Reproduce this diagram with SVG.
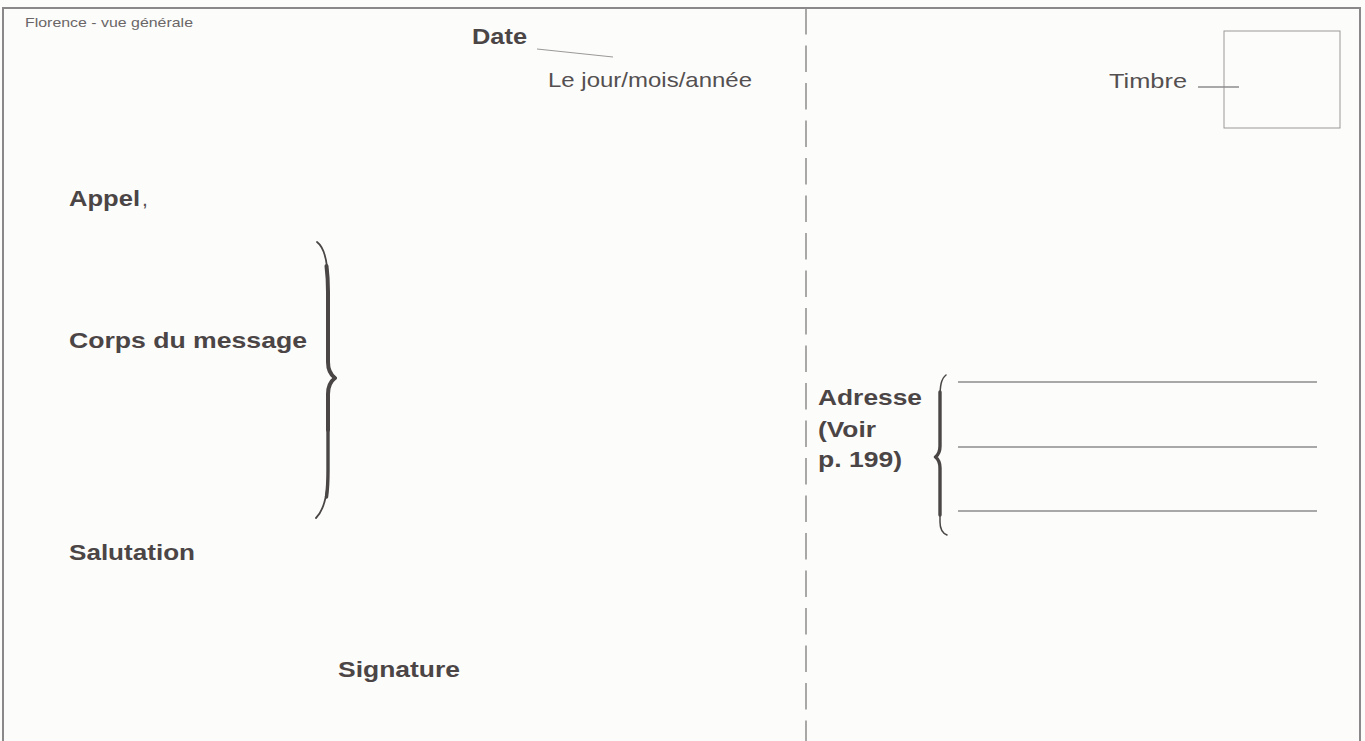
<svg xmlns="http://www.w3.org/2000/svg" width="1365" height="741" viewBox="0 0 1365 741">
  <style>
    .frame { fill: none; stroke: #8a8888; stroke-width: 2; }
    .rule { fill: none; stroke: #8e8c8c; stroke-width: 1.5; }
    .thin { fill: none; stroke: #9a9898; stroke-width: 1; }
    .brace { fill: none; stroke: #4a4646; stroke-linecap: round; stroke-linejoin: round; }
    .lbl { font-family: "Liberation Sans", Arial, sans-serif; font-weight: bold; font-size: 22.5px; fill: #4b4546; }
    .reg { font-family: "Liberation Sans", Arial, sans-serif; font-size: 21px; fill: #545051; }
    .small { font-family: "Liberation Sans", Arial, sans-serif; font-size: 13.5px; fill: #6a6667; }
  </style>

  <!-- card background -->
  <rect x="0" y="0" width="1365" height="741" fill="#fcfcfa"/>

  <!-- card edges and the dashed centre fold -->
  <g id="card-frame">
    <path class="frame" d="M3,741 V8 H1360 V741"/>
    <line class="rule" x1="806" y1="8" x2="806" y2="741" stroke-dasharray="26.5 11"/>
  </g>

  <g id="caption">
    <text class="small" x="25" y="27" textLength="168" lengthAdjust="spacingAndGlyphs">Florence - vue générale</text>
  </g>

  <g id="date">
    <text class="lbl" x="472" y="44" textLength="55" lengthAdjust="spacingAndGlyphs">Date</text>
  </g>

  <g id="date-format">
    <text class="reg" x="548" y="87" textLength="204" lengthAdjust="spacingAndGlyphs">Le jour/mois/année</text>
  </g>

  <g id="stamp">
    <rect class="thin" x="1224" y="31" width="116" height="97"/>
    <text class="reg" x="1109" y="88" font-size="22" textLength="78" lengthAdjust="spacingAndGlyphs">Timbre</text>
  </g>

  <g id="appel">
    <text class="lbl" x="69" y="206" textLength="71" lengthAdjust="spacingAndGlyphs">Appel</text>
    <text class="reg" x="142" y="206">,</text>
  </g>

  <g id="corps">
    <text class="lbl" x="69" y="348" textLength="238" lengthAdjust="spacingAndGlyphs">Corps du message</text>
  </g>

  <g id="salutation">
    <text class="lbl" x="69" y="560" textLength="126" lengthAdjust="spacingAndGlyphs">Salutation</text>
  </g>

  <g id="signature">
    <text class="lbl" x="338" y="677" textLength="122" lengthAdjust="spacingAndGlyphs">Signature</text>
  </g>

  <g id="adresse">
    <text class="lbl" x="818" y="405" textLength="104" lengthAdjust="spacingAndGlyphs">Adresse</text>
    <text class="lbl" x="818" y="437" textLength="58" lengthAdjust="spacingAndGlyphs">(Voir</text>
    <text class="lbl" x="818" y="467" textLength="84" lengthAdjust="spacingAndGlyphs">p. 199)</text>
  </g>

  <g id="address-lines">
    <line class="rule" x1="958" y1="382" x2="1317" y2="382"/>
    <line class="rule" x1="958" y1="447" x2="1317" y2="447"/>
    <line class="rule" x1="958" y1="511" x2="1317" y2="511"/>
  </g>

  <g id="connectors">
    <!-- Date pointer -->
    <line class="thin" x1="537" y1="49" x2="613" y2="57"/>
    <!-- Timbre pointer -->
    <line class="rule" x1="1198" y1="87" x2="1239" y2="87"/>

    <!-- closing brace beside the message body -->
    <path class="brace" stroke-width="1.8" d="M317,242 C325,248 328,262 328,285 L328,362 C328,370 331,375 336,378 C331,381 328,386 328,394 L328,470 C328,495 324,510 316,518"/>
    <path class="brace" stroke-width="4" d="M326.5,266 C327.5,274 328,280 328,292 L328,362 C328,370 331,375 335,378 C331,381 328,386 328,394 L328,430"/>
    <path class="brace" stroke-width="3.4" stroke="#5a4b4a" d="M328,430 L328,470 C328,482 327.5,490 326.5,497"/>

    <!-- opening brace beside the address -->
    <path class="brace" stroke-width="1.5" d="M946,375 C941,379 940,386 940,398 L940,446 C940,452 938,455 935,457 C938,459 940,462 940,468 L940,522 C940,529 942,533 947,535"/>
    <path class="brace" stroke-width="3.4" d="M940,392 L940,446 C940,452 938,455 935.5,457 C938,459 940,462 940,468 L940,515"/>
  </g>
</svg>
